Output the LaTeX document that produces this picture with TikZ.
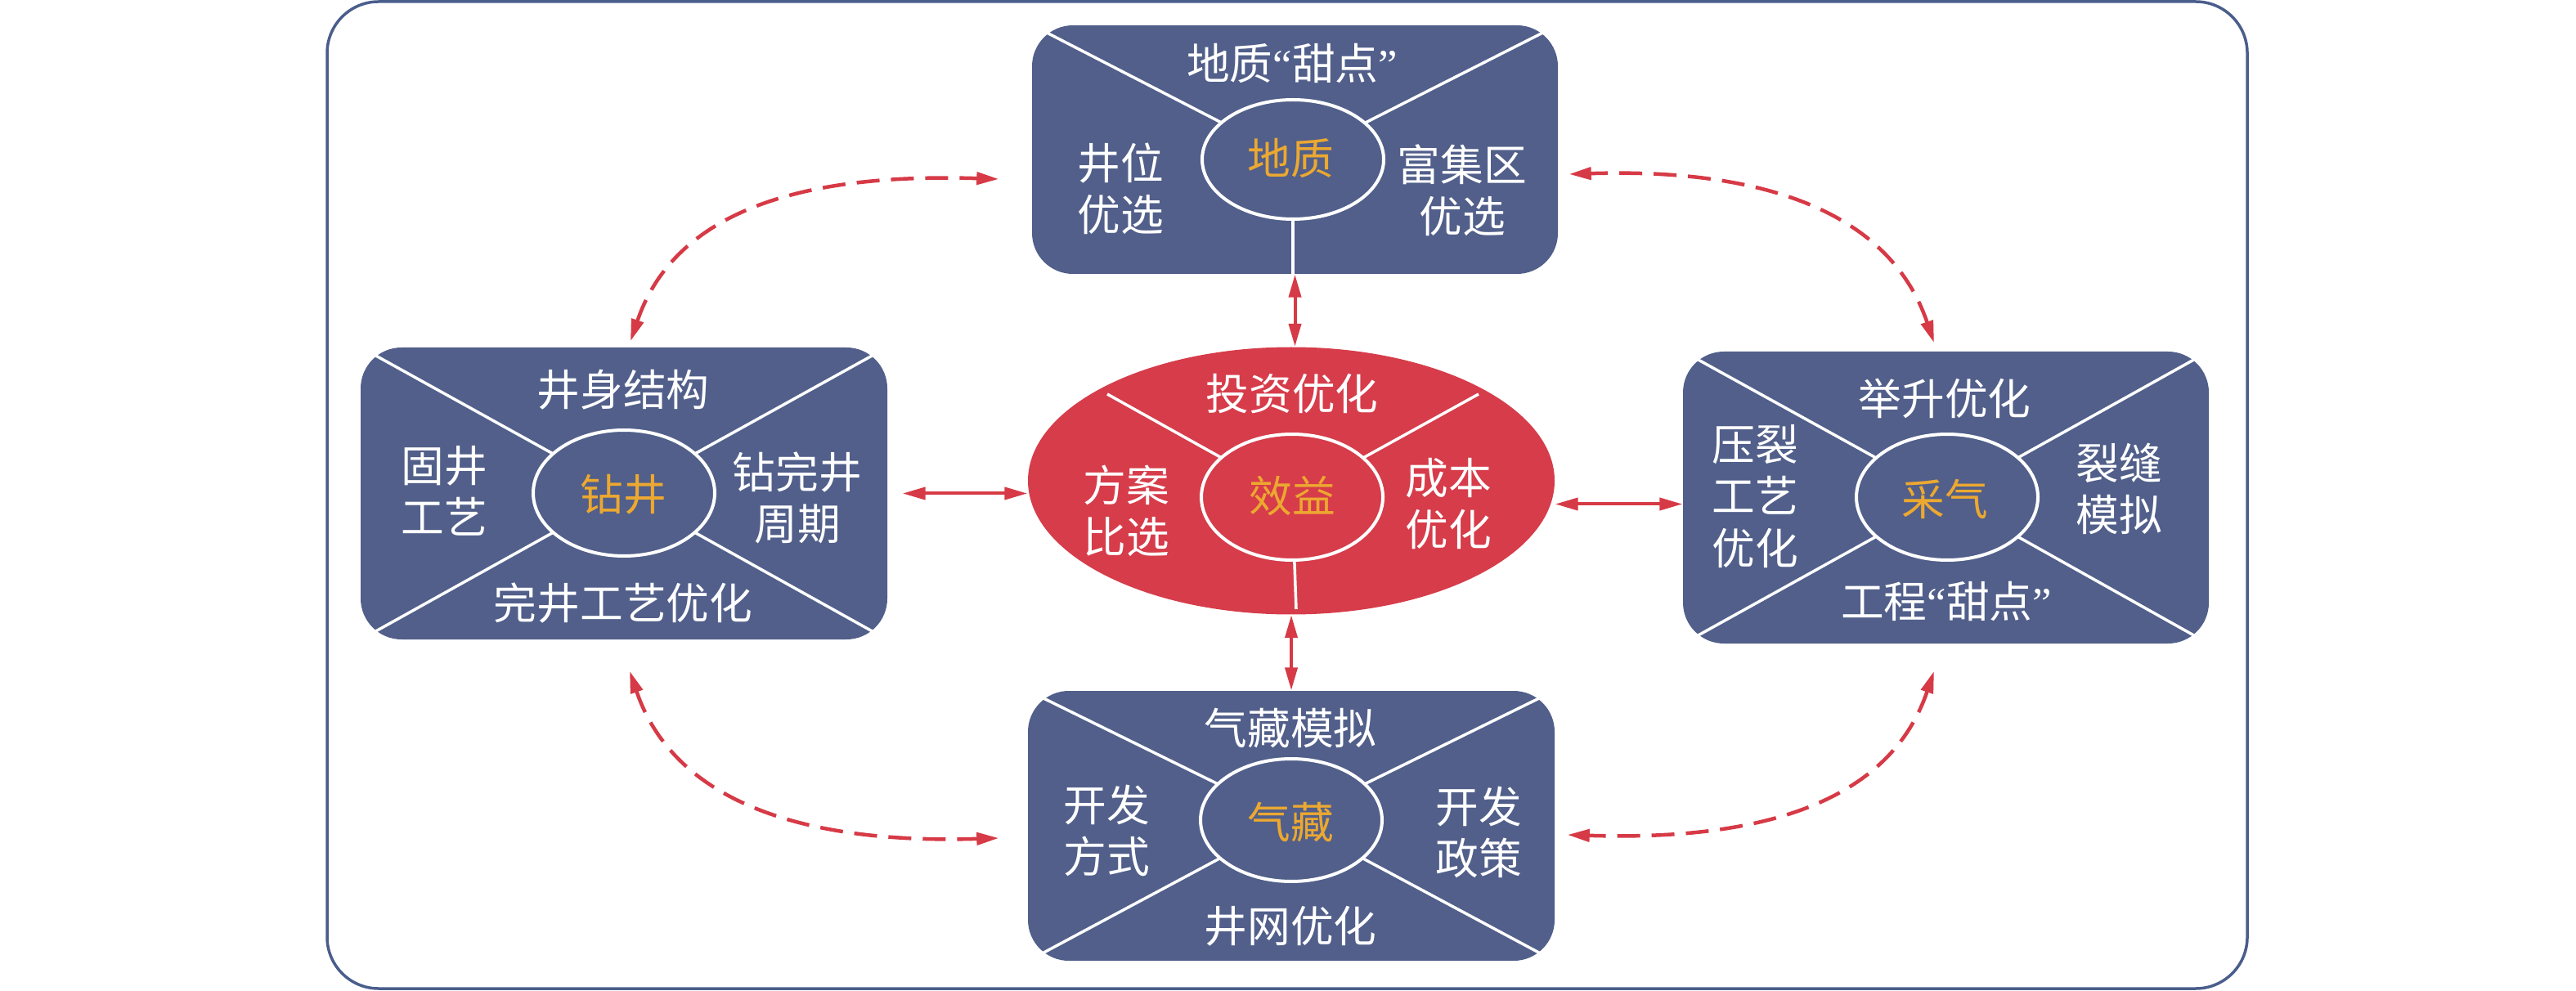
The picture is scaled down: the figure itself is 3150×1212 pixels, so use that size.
\documentclass[tikz,border=0pt]{standalone}
\usepackage{fontspec}
\newfontfamily\cjk{Noto Sans CJK SC}
\newfontfamily\qf{Liberation Serif}
\usetikzlibrary{arrows.meta,shapes.geometric,calc}
\definecolor{boxblue}{RGB}{81,95,138}
\definecolor{effred}{RGB}{214,60,74}
\definecolor{arrred}{RGB}{214,58,70}
\definecolor{gold}{RGB}{236,168,48}
\definecolor{framec}{RGB}{74,94,140}
\begin{document}
\begin{tikzpicture}[x=0.1mm,y=-0.1mm,
  bbox/.style={rectangle, fill=boxblue, rounded corners=5mm, inner sep=0pt},
  hub/.style={ellipse, draw=white, line width=0.4mm, inner sep=0pt, minimum width=22.2mm},
  sep/.style={draw=white, line width=0.35mm},
  lab/.style={text=white, font=\cjk\fontsize{15pt}{18pt}\selectfont, align=center, inner sep=0pt},
  core/.style={lab, text=gold},
  arr/.style={draw=arrred, line width=0.4mm, arrows={Triangle[length=2.8mm,width=1.5mm]-Triangle[length=2.8mm,width=1.5mm]}},
  darr/.style={draw=arrred, line width=0.45mm, dash pattern=on 2.8mm off 1.4mm, arrows={Triangle[length=2.7mm,width=1.5mm]-Triangle[length=2.7mm,width=1.5mm]}}]
\useasboundingbox (0,0) rectangle (3150,1212);
% outer frame
\draw[framec, line width=0.35mm, rounded corners=6.3mm] (400,2) rectangle (2748,1209);

% boxes
\node[bbox, minimum width=64.3mm, minimum height=30.4mm] (geo) at (1583.5,183) {};
\node[bbox, minimum width=64.4mm, minimum height=35.7mm] (drill) at (763,603.5) {};
\node[bbox, minimum width=64.3mm, minimum height=35.7mm] (prod) at (2379.5,608.5) {};
\node[bbox, minimum width=64.4mm, minimum height=33mm] (res) at (1579,1010) {};
\node[ellipse, fill=effred, inner sep=0pt, minimum width=64.4mm, minimum height=32.7mm] (eff) at (1579,588) {};

% hub centres
\coordinate (geoc) at (1581,195);
\coordinate (drillc) at (763,603);
\coordinate (prodc) at (2381,608);
\coordinate (resc) at (1579,1003);
\coordinate (effc) at (1580,608);

% dividers
\begin{scope}
\clip[rounded corners=5mm] (geo.south west) rectangle (geo.north east);
\draw[sep] (geo.north west) -- (geoc) -- (geo.north east);
\draw[sep] (geoc) -- (geoc |- geo.south);
\end{scope}
\begin{scope}
\clip[rounded corners=5mm] (drill.south west) rectangle (drill.north east);
\draw[sep] (drill.north west) -- (drillc) -- (drill.south east);
\draw[sep] (drill.south west) -- (drillc) -- (drill.north east);
\end{scope}
\begin{scope}
\clip[rounded corners=5mm] (prod.south west) rectangle (prod.north east);
\draw[sep] (prod.north west) -- (prodc) -- (prod.south east);
\draw[sep] (prod.south west) -- (prodc) -- (prod.north east);
\end{scope}
\begin{scope}
\clip[rounded corners=5mm] (res.south west) rectangle (res.north east);
\draw[sep] (res.north west) -- (resc) -- (res.south east);
\draw[sep] (res.south west) -- (resc) -- (res.north east);
\end{scope}
\coordinate (effl) at (1354,482);
\coordinate (effr) at (1808,482);
\coordinate (effb) at (1585,745);
\draw[sep] (effl) -- (effc) -- (effr);
\draw[sep] (effc) -- (effb);

% hubs
\node[hub, fill=boxblue, minimum height=14.6mm] (geohub) at (geoc) {};
\node[hub, fill=boxblue, minimum height=15.4mm] (drillhub) at (drillc) {};
\node[hub, fill=boxblue, minimum height=15.4mm] (prodhub) at (prodc) {};
\node[hub, fill=boxblue, minimum height=15mm] (reshub) at (resc) {};
\node[hub, fill=effred, minimum height=15.4mm] (effhub) at (effc) {};

% texts: geology
\node[lab] (g1) at (1580,77) {地质{\qf “}甜点{\qf ”}};
\node[lab] (g2) at (1370,231) {井位\\优选};
\node[lab] (g3) at (1788,233) {富集区\\优选};
\node[core] (g0) at (1578,193) {地质};
% texts: benefit
\node[lab] (e1) at (1580,482) {投资优化};
\node[lab] (e2) at (1377,625) {方案\\比选};
\node[lab] (e3) at (1771,616) {成本\\优化};
\node[core] (e0) at (1580,607) {效益};
% texts: drilling
\node[lab] (d1) at (762,477) {井身结构};
\node[lab] (d2) at (543,600) {固井\\工艺};
\node[lab] (d3) at (975,609) {钻完井\\周期};
\node[lab] (d4) at (762,737) {完井工艺优化};
\node[core] (d0) at (762,605) {钻井};
% texts: production
\node[lab] (p1) at (2378,487) {举升优化};
\node[lab] (p2) at (2146,607) {压裂\\工艺\\优化};
\node[lab] (p3) at (2591,598) {裂缝\\模拟};
\node[lab] (p4) at (2380,735) {工程{\qf “}甜点{\qf ”}};
\node[core] (p0) at (2378,610) {采气};
% texts: reservoir
\node[lab] (r1) at (1578,890) {气藏模拟};
\node[lab] (r2) at (1353,1016) {开发\\方式};
\node[lab] (r3) at (1808,1018) {开发\\政策};
\node[lab] (r4) at (1578,1133) {井网优化};
\node[core] (r0) at (1578,1005) {气藏};

% solid arrows
\draw[arr] (geo.south) -- (geo.south |- eff.north);
\draw[arr] (eff.south) -- (res.north);
\draw[arr] ([xshift=1.8mm]drill.east) -- (drill.east -| eff.west);
\coordinate (rarrow) at ([yshift=-0.8mm]prod.west);
\draw[arr] (eff.east |- rarrow) -- (rarrow);

% dashed arrows
\coordinate (tla) at ([xshift=0.8mm,yshift=0.7mm]drill.north);
\coordinate (tlb) at ([xshift=-4mm,yshift=-3.6mm]geo.west);
\coordinate (tra) at ([xshift=-1.45mm,yshift=1mm]prod.north);
\coordinate (trb) at ([xshift=1.3mm,yshift=-3mm]geo.east);
\coordinate (bla) at ([xshift=0.7mm,yshift=-3.8mm]drill.south);
\coordinate (blb) at ([xshift=-3.5mm,yshift=-1.5mm]res.west);
\coordinate (bra) at ([xshift=-1.45mm,yshift=-3.3mm]prod.south);
\coordinate (brb) at ([xshift=1.5mm,yshift=-1.1mm]res.east);
\draw[darr] (tla) .. controls +(57,-168) and +(-222,-7) .. (tlb);
\draw[darr] (tra) .. controls +(-57,-168) and +(222,-7) .. (trb);
\draw[darr] (bla) .. controls +(57,168) and +(-222,7) .. (blb);
\draw[darr] (bra) .. controls +(-57,168) and +(222,7) .. (brb);
\end{tikzpicture}
\end{document}
